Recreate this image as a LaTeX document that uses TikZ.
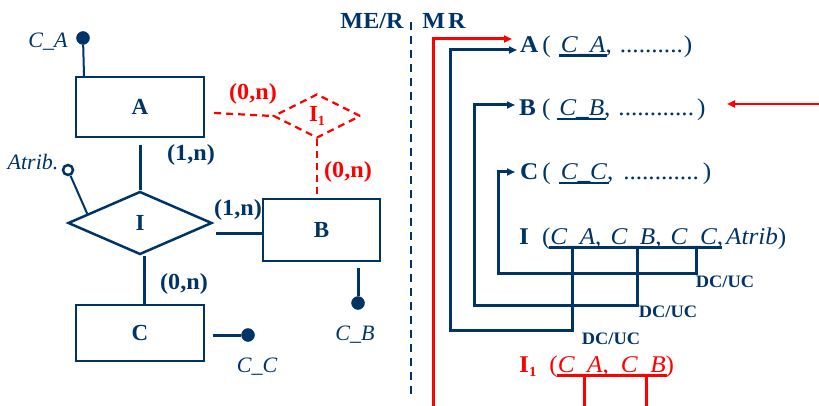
\documentclass[tikz,border=0pt]{standalone}
\usepackage{fontspec}
\setmainfont{Liberation Serif}
\newfontfamily\rfont[FakeStretch=1.05]{Liberation Serif}
\usetikzlibrary{arrows.meta,shapes.geometric,calc}
\definecolor{navy}{RGB}{0,51,102}
\definecolor{ered}{RGB}{255,0,0}
\tikzset{
  ent/.style={draw=navy, line width=2.2pt, text=navy, font=\fontsize{23}{23}\selectfont\bfseries, inner sep=0pt},
  rel/.style={diamond, draw=navy, line width=2.5pt, text=navy, font=\fontsize{23}{23}\selectfont\bfseries, inner sep=0pt},
  relr/.style={diamond, draw=ered, dash pattern=on 7pt off 5pt, line width=2.2pt, text=ered, font=\fontsize{23}{23}\selectfont\bfseries, inner sep=0pt},
  conn/.style={draw=navy, line width=3pt},
  connr/.style={draw=ered, line width=2.2pt, dash pattern=on 7pt off 5pt},
  card/.style={text=navy, font=\rfont\fontsize{23}{23}\selectfont\bfseries, inner sep=0pt},
  cardr/.style={card, text=ered},
  attr/.style={text=navy, font=\fontsize{22}{22}\selectfont\itshape, inner sep=0pt},
  keydot/.style={circle, fill=navy, draw=navy, minimum size=13pt, inner sep=0pt},
  opendot/.style={circle, draw=navy, fill=white, line width=2.5pt, minimum size=10pt, inner sep=0pt},
  rtext/.style={text=navy, font=\rfont\fontsize{24}{24}\selectfont, inner sep=0pt, anchor=base west},
  dcuc/.style={text=navy, font=\rfont\fontsize{17.5}{17.5}\selectfont\bfseries, inner sep=0pt},
  head/.style={text=navy, font=\rfont\fontsize{23}{23}\selectfont\bfseries, inner sep=0pt},
  nline/.style={draw=navy, line width=3pt},
  rline/.style={draw=ered, line width=3pt},
  tip/.style={-{Triangle[length=8pt,width=7pt]}},
}
\begin{document}
\begin{tikzpicture}[x=1pt,y=-1pt]
\useasboundingbox (0,0) rectangle (819,406);
% ---------- left: ER model ----------
\node[ent, minimum width=128pt, minimum height=60pt] (A) at (140,107) {A};
\node[ent, minimum width=117pt, minimum height=62pt] (B) at (321.5,230) {B};
\node[ent, minimum width=128pt, minimum height=56pt] (C) at (140,333) {C};
\node[rel, minimum width=144pt, minimum height=63pt] (I) at (140,223) {I};
\node[relr, minimum width=87pt, minimum height=44pt] (I1) at (317,116) {I\raisebox{-4pt}{\fontsize{14}{14}\selectfont 1}};

\draw[conn] ([yshift=-7pt]A.south) -- (I.north);
\draw[conn] ([shift={(3pt,-10pt)}]I.east) -- ([yshift=-3pt]B.west);
\draw[conn] ([xshift=4pt]I.south) -- ([xshift=4pt]I.south |- C.north);
\draw[connr] ([shift={(9pt,-6pt)}]A.east) -- (I1.west);
\draw[connr] (I1.south) -- (I1.south |- B.north);

\node[keydot] (ka) at (83,38) {};
\draw[draw=navy, line width=2pt] (ka) -- ([xshift=1pt]ka |- A.north);
\node[attr] (tca) at (48,42) {C\_A};

\node[opendot] (kat) at (68,170) {};
\draw[draw=navy, line width=2pt] (kat) -- ($(I.west)!0.28!(I.north)$);
\node[attr] (tat) at (33,162) {Atrib.};

\node[keydot] (kb) at (358,303) {};
\draw[conn] ([yshift=-6pt]kb |- B.south) -- (kb);
\node[attr] (tcb) at (355,335) {C\_B};

\node[keydot] (kc) at (248,335) {};
\draw[conn] ([xshift=8pt]C.east |- kc) -- (kc);
\node[attr] (tcc) at (257,367) {C\_C};

\node[cardr] (c1) at (253,94) {(0,n)};
\node[cardr] (c2) at (348,172) {(0,n)};
\node[card] (c3) at (191,155) {(1,n)};
\node[card] (c4) at (238,210) {(1,n)};
\node[card] (c5) at (184,284) {(0,n)};

% ---------- separator ----------
\coordinate (s1) at (411,22);
\coordinate (s2) at (411,394);
\draw[draw=navy, line width=1.8pt, dash pattern=on 8pt off 6pt] (s1) -- (s2);
\node[head] (hmer) at (372,21) {ME/R};
\node[head] (hmr) at (444,21) {M\hspace{3pt}R};

% ---------- right: relational model ----------
\node[rtext] (tA) at (520,53) {\textbf{A}\hspace{4pt}(\hspace{10pt}\textit{C\_A},\hspace{8pt}..........\hspace{1pt})};
\node[rtext] (tB) at (519,116) {\textbf{B}\hspace{6pt}(\hspace{9pt}\textit{C\_B},\hspace{8pt}............\hspace{3pt})};
\node[rtext] (tC) at (520,180) {\textbf{C}\hspace{4pt}(\hspace{10pt}\textit{C\_C},\hspace{10pt}............\hspace{4pt})};
\node[rtext] (tI) at (519,244) {\textbf{I}\hspace{13pt}(\textit{C\_A},\hspace{9pt}\textit{C\_B},\hspace{9pt}\textit{C\_C},\hspace{3pt}\textit{Atrib})};
\node[rtext, text=ered] (tI1) at (519,372) {\textbf{I\raisebox{-4pt}{\fontsize{14}{14}\selectfont 1}}\hspace{13pt}(\textit{C\_A},\hspace{12pt}\textit{C\_B})};

% underlines
\draw[nline, line width=2.5pt] (559,55.5) -- (607,55.5);
\draw[nline, line width=2.5pt] (557,119) -- (606,119);
\draw[nline, line width=2.5pt] (559,183) -- (609,183);
\coordinate (uI1) at (549,247);
\coordinate (uI2) at (722,247);
\draw[nline] (uI1) -- (uI2);
\coordinate (uR1) at (557,375);
\coordinate (uR2) at (667,375);
\draw[rline] (uR1) -- (uR2);
\draw[rline] (584,375) -- (584,406);
\draw[rline] (646,375) -- (646,406);

% red reference line and arrow
\draw[rline, tip] (433,406) -- (433,39) -- ([shift={(-8pt,14pt)}]tA.base west);
% navy references
\draw[nline, tip] (572,247) -- (572,330) -- (450,330) -- (450,50) -- ([shift={(-3pt,3pt)}]tA.base west);
\draw[nline, tip] (637,247) -- (637,305) -- (474,305) -- (474,105) -- ([shift={(-4pt,11pt)}]tB.base west);
\draw[nline, tip] (696,247) -- (696,273) -- (498,273) -- (498,172) -- ([shift={(-5pt,8pt)}]tC.base west);
\node[dcuc] (d1) at (725,282) {DC/UC};
\node[dcuc] (d2) at (668,312) {DC/UC};
\node[dcuc] (d3) at (611,339) {DC/UC};

% red incoming arrow
\coordinate (rs) at (819,104);
\coordinate (re) at (727,104);
\draw[draw=ered, line width=2pt, tip] (rs) -- (re);
\end{tikzpicture}
\end{document}
